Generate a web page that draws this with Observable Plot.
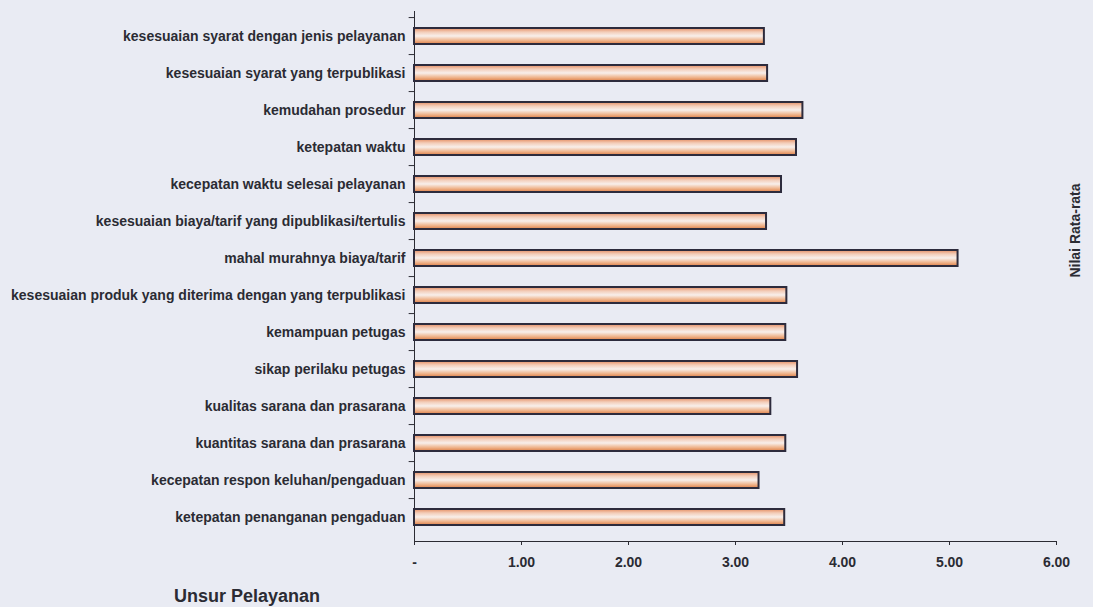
<!DOCTYPE html>
<html>
<head>
<meta charset="utf-8">
<script src="https://cdn.jsdelivr.net/npm/d3@7"></script>
<script src="https://cdn.jsdelivr.net/npm/@observablehq/plot@0.6"></script>
<style>
  html, body { margin: 0; padding: 0; background: #e9ebf3; }
  #wrap { position: relative; width: 1093px; height: 607px; overflow: hidden; }
  #caption { position: absolute; left: 174px; top: 586px; font-family: "Liberation Sans", Arial, sans-serif; font-weight: bold; font-size: 18px; color: #2b2b33; }
</style>
</head>
<body>
<div id="wrap">
  <div id="chart"></div>
  <div id="caption">Unsur Pelayanan</div>
</div>
<script>
const categories = [
  "kesesuaian syarat dengan jenis pelayanan",
  "kesesuaian syarat yang terpublikasi",
  "kemudahan prosedur",
  "ketepatan waktu",
  "kecepatan waktu selesai pelayanan",
  "kesesuaian biaya/tarif yang dipublikasi/tertulis",
  "mahal murahnya biaya/tarif",
  "kesesuaian produk yang diterima dengan yang terpublikasi",
  "kemampuan petugas",
  "sikap perilaku petugas",
  "kualitas sarana dan prasarana",
  "kuantitas sarana dan prasarana",
  "kecepatan respon keluhan/pengaduan",
  "ketepatan penanganan pengaduan"
];
const values = [3.27, 3.30, 3.63, 3.57, 3.43, 3.29, 5.08, 3.48, 3.47, 3.58, 3.33, 3.47, 3.22, 3.46];
const xTicks = [0, 1, 2, 3, 4, 5, 6];
const xTitle = "Nilai Rata-rata";

const data = categories.map((c, i) => ({unsur: c, nilai: values[i]}));

const chart = Plot.plot({
  width: 1093,
  height: 575,
  marginLeft: 414,
  marginRight: 37,
  marginTop: 11,
  marginBottom: 34,
  style: {background: "transparent", fontFamily: "'Liberation Sans', Arial, sans-serif", fontSize: "14px", color: "#2b2b33"},
  x: {domain: [0, 6], ticks: xTicks, tickFormat: d => d === 0 ? "-" : d.toFixed(2), tickSize: 4, tickPadding: 12, label: null, line: true},
  y: {domain: categories, paddingInner: 0.58, paddingOuter: 0.29, tickSize: 0, tickPadding: 9, label: null, line: true},
  marks: [
    Plot.barX(data, {x: "nilai", y: "unsur", fill: "url(#barGrad)", stroke: "#2d2b3c", strokeWidth: 2}),
    Plot.ruleY(categories, {y: d => d, x1: -0.05, x2: 0, dy: -18.93, stroke: "#2b2b33"}),
    Plot.text([xTitle], {frameAnchor: "right", textAnchor: "middle", dx: 19, dy: -46, rotate: -90, fontWeight: "bold", fontSize: 14, fill: "#2b2b33"})
  ]
});

const ns = "http://www.w3.org/2000/svg";
const defs = document.createElementNS(ns, "defs");
const grad = document.createElementNS(ns, "linearGradient");
grad.setAttribute("id", "barGrad");
grad.setAttribute("x1", "0"); grad.setAttribute("y1", "0");
grad.setAttribute("x2", "0"); grad.setAttribute("y2", "1");
[["0%", "#e58d62"], ["25%", "#f3cdb9"], ["50%", "#f8efeb"], ["78%", "#efb48c"], ["100%", "#de7f47"]].forEach(([o, c]) => {
  const s = document.createElementNS(ns, "stop");
  s.setAttribute("offset", o);
  s.setAttribute("stop-color", c);
  grad.appendChild(s);
});
defs.appendChild(grad);
chart.insertBefore(defs, chart.firstChild);
chart.querySelectorAll("g[aria-label='y-axis tick label']").forEach(el => el.setAttribute("font-weight", "bold"));
chart.querySelectorAll("g[aria-label='x-axis tick label']").forEach(el => { el.setAttribute("font-weight", "bold"); el.setAttribute("font-size", "14px"); });
document.getElementById("chart").appendChild(chart);
</script>
</body>
</html>
